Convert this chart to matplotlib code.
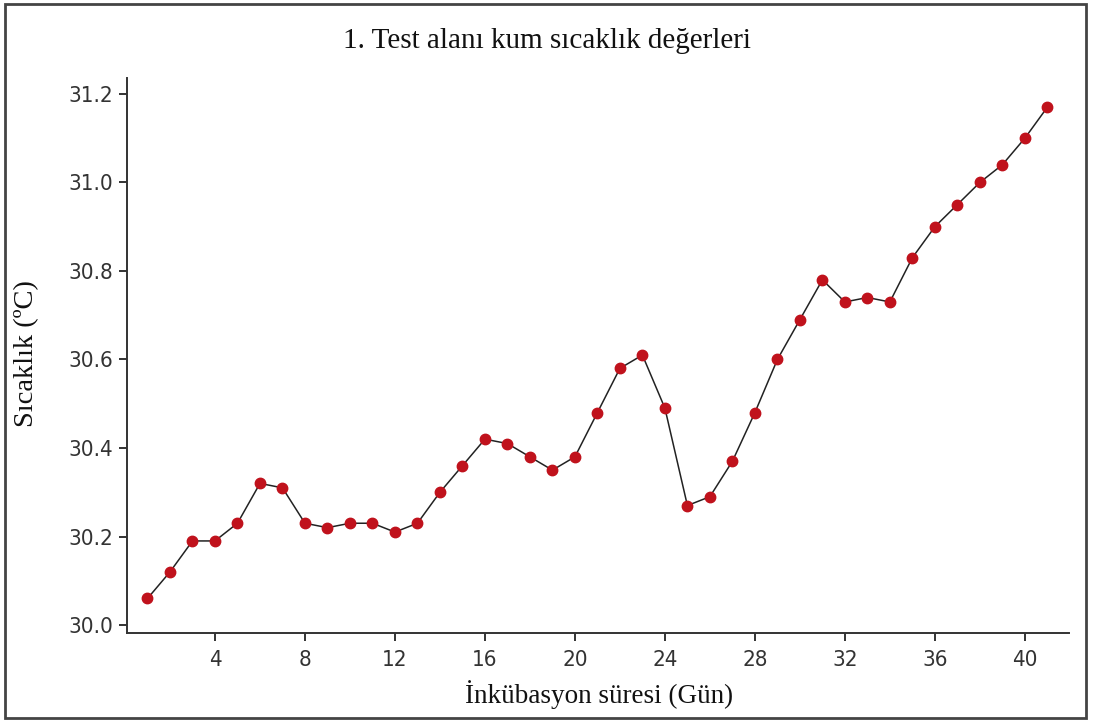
import matplotlib
matplotlib.use("Agg")
import matplotlib.pyplot as plt
from matplotlib.patches import Rectangle

days = list(range(1, 42))
temps = [30.06, 30.12, 30.19, 30.19, 30.23, 30.32, 30.31, 30.23, 30.22, 30.23,
         30.23, 30.21, 30.23, 30.30, 30.36, 30.42, 30.41, 30.38, 30.35, 30.38,
         30.48, 30.58, 30.61, 30.49, 30.27, 30.29, 30.37, 30.48, 30.60, 30.69,
         30.78, 30.73, 30.74, 30.73, 30.83, 30.90, 30.95, 31.00, 31.04, 31.10,
         31.17]
xticks = [4, 8, 12, 16, 20, 24, 28, 32, 36, 40]
yticks = [30.0, 30.2, 30.4, 30.6, 30.8, 31.0, 31.2]

title = "1. Test alanı kum sıcaklık değerleri"
xlabel = "İnkübasyon süresi (Gün)"
ylabel = "Sıcaklık (ºC)"

fig = plt.figure(figsize=(10.94, 7.27), dpi=100)
ax = fig.add_axes([0.1161, 0.1293, 0.861, 0.7634])

ax.plot(days, temps, color="#222222", lw=1.1, marker="o", markersize=7.5,
        markerfacecolor="#c0121c", markeredgecolor="#c0121c", zorder=3)

ax.set_xlim(0.09, 41.96)
ax.set_ylim(29.982, 31.236)
ax.set_xticks(xticks)
ax.set_yticks(yticks)
ax.set_yticklabels([f"{v:.1f}" for v in yticks])
for s in ["top", "right"]:
    ax.spines[s].set_visible(False)
for s in ["left", "bottom"]:
    ax.spines[s].set_linewidth(1.4)
    ax.spines[s].set_color("#333333")
ax.tick_params(axis="both", direction="out", length=6, width=1.4, color="#333333",
               labelsize=16, labelcolor="#333333")
ax.tick_params(axis="y", pad=4)
ax.tick_params(axis="x", pad=6)
for lbl in ax.get_xticklabels() + ax.get_yticklabels():
    lbl.set_family("DejaVu Sans")
    lbl.set_stretch("condensed")

serif = ["Liberation Serif", "DejaVu Serif"]
fig.text(0.5, 0.943, title, ha="center", va="center", fontsize=21, family=serif, color="#111111")
fig.text(0.548, 0.044, xlabel, ha="center", va="center", fontsize=19.5, family=serif, color="#111111")
fig.text(0.024, 0.513, ylabel, ha="center", va="center", rotation=90, fontsize=20.5, family=serif, color="#111111")

# outer frame of the picture
fig.add_artist(Rectangle((0.005, 0.012), 0.988, 0.983, transform=fig.transFigure,
                         fill=False, edgecolor="#444444", lw=2.0))

fig.savefig("out.png", dpi=100, facecolor="white")
